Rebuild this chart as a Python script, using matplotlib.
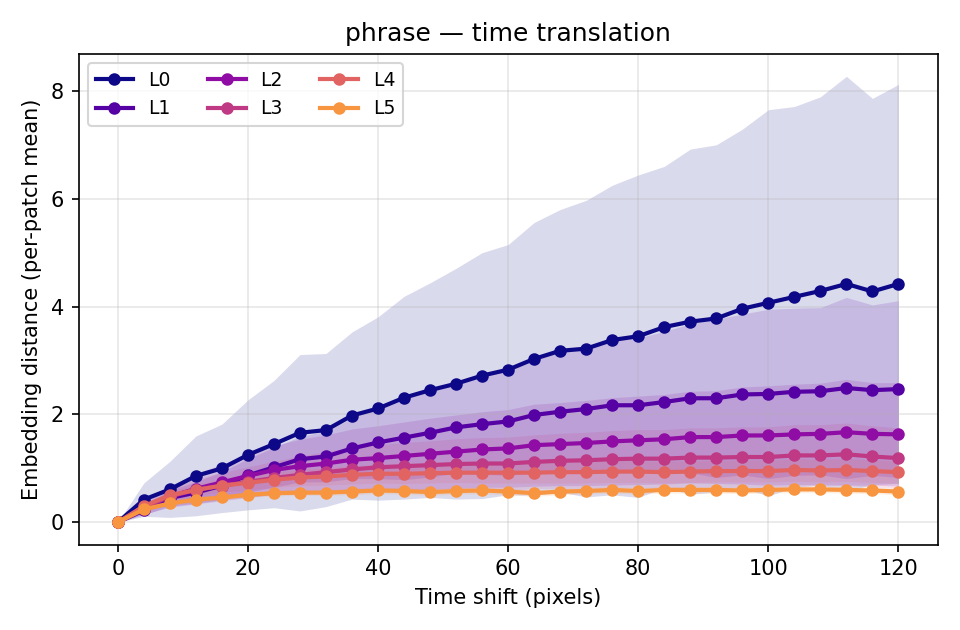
import numpy as np
import matplotlib
matplotlib.use("Agg")
import matplotlib.pyplot as plt

# time shifts (pixels)
shifts = list(range(0, 121, 4))

layer_names = ["L0", "L1", "L2", "L3", "L4", "L5"]

# mean embedding distance per layer
L0_mean = [0, 0.42, 0.61, 0.86, 1.0, 1.25, 1.45, 1.66, 1.71, 1.98, 2.11, 2.31, 2.45, 2.57, 2.72, 2.83,
           3.03, 3.18, 3.22, 3.38, 3.45, 3.62, 3.72, 3.78, 3.96, 4.07, 4.18, 4.29, 4.42, 4.28, 4.42]
L1_mean = [0, 0.22, 0.45, 0.55, 0.68, 0.87, 1.02, 1.17, 1.22, 1.37, 1.48, 1.57, 1.66, 1.76, 1.82, 1.87,
           1.99, 2.05, 2.10, 2.17, 2.17, 2.23, 2.30, 2.30, 2.37, 2.38, 2.42, 2.43, 2.49, 2.45, 2.47]
L2_mean = [0, 0.25, 0.48, 0.62, 0.74, 0.86, 0.97, 1.04, 1.09, 1.16, 1.19, 1.23, 1.27, 1.31, 1.35, 1.37,
           1.43, 1.45, 1.47, 1.50, 1.52, 1.54, 1.58, 1.58, 1.61, 1.61, 1.63, 1.64, 1.67, 1.64, 1.63]
L3_mean = [0, 0.28, 0.48, 0.60, 0.68, 0.75, 0.82, 0.88, 0.93, 0.98, 1.02, 1.04, 1.06, 1.08, 1.09, 1.09,
           1.12, 1.14, 1.15, 1.17, 1.18, 1.18, 1.20, 1.20, 1.21, 1.21, 1.24, 1.24, 1.26, 1.22, 1.19]
L4_mean = [0, 0.30, 0.50, 0.60, 0.68, 0.73, 0.79, 0.83, 0.85, 0.88, 0.90, 0.90, 0.91, 0.92, 0.92, 0.92,
           0.92, 0.93, 0.93, 0.94, 0.94, 0.93, 0.94, 0.95, 0.95, 0.95, 0.97, 0.96, 0.97, 0.95, 0.93]
L5_mean = [0, 0.24, 0.35, 0.42, 0.46, 0.51, 0.54, 0.55, 0.55, 0.57, 0.59, 0.58, 0.56, 0.58, 0.59, 0.57,
           0.54, 0.57, 0.58, 0.60, 0.58, 0.60, 0.60, 0.60, 0.59, 0.60, 0.61, 0.61, 0.60, 0.59, 0.57]

# spread (std) per layer
L0_std = [0, 0.31, 0.52, 0.74, 0.82, 1.02, 1.18, 1.45, 1.42, 1.55, 1.70, 1.88, 1.99, 2.14, 2.28, 2.32,
          2.53, 2.62, 2.75, 2.87, 2.99, 2.98, 3.20, 3.22, 3.33, 3.58, 3.53, 3.60, 3.85, 3.58, 3.70]
L1_std = [0, 0.08, 0.15, 0.20, 0.26, 0.31, 0.37, 0.42, 0.47, 0.56, 0.67, 0.78, 0.82, 0.85, 0.93, 1.00,
          1.07, 1.13, 1.17, 1.21, 1.25, 1.31, 1.38, 1.47, 1.49, 1.57, 1.55, 1.55, 1.68, 1.58, 1.64]
L2_std = [0, 0.10, 0.20, 0.28, 0.34, 0.40, 0.45, 0.50, 0.53, 0.57, 0.60, 0.63, 0.66, 0.68, 0.70, 0.72,
          0.76, 0.77, 0.79, 0.81, 0.82, 0.83, 0.85, 0.86, 0.90, 0.92, 0.93, 0.94, 0.98, 0.95, 0.96]
L3_std = [0, 0.08, 0.15, 0.20, 0.24, 0.28, 0.31, 0.35, 0.38, 0.40, 0.42, 0.44, 0.45, 0.47, 0.48, 0.49,
          0.50, 0.51, 0.52, 0.53, 0.54, 0.54, 0.55, 0.55, 0.56, 0.56, 0.57, 0.57, 0.58, 0.57, 0.56]
L4_std = [0, 0.05, 0.08, 0.10, 0.12, 0.13, 0.14, 0.15, 0.16, 0.17, 0.17, 0.18, 0.18, 0.18, 0.19, 0.19,
          0.19, 0.20, 0.20, 0.20, 0.20, 0.20, 0.20, 0.20, 0.20, 0.20, 0.21, 0.21, 0.21, 0.21, 0.20]
L5_std = [0, 0.03, 0.04, 0.05, 0.05, 0.05, 0.05, 0.05, 0.05, 0.06, 0.06, 0.06, 0.06, 0.06, 0.06, 0.06,
          0.06, 0.06, 0.06, 0.06, 0.06, 0.06, 0.06, 0.06, 0.06, 0.06, 0.06, 0.06, 0.06, 0.06, 0.06]

means = [L0_mean, L1_mean, L2_mean, L3_mean, L4_mean, L5_mean]
stds = [L0_std, L1_std, L2_std, L3_std, L4_std, L5_std]

colors = plt.cm.plasma(np.linspace(0, 0.75, len(layer_names)))

fig, ax = plt.subplots(figsize=(6.4, 4.2), dpi=150)

for name, m, s, c in zip(layer_names, means, stds, colors):
    m = np.array(m)
    s = np.array(s)
    ax.fill_between(shifts, m - s, m + s, color=c, alpha=0.15, linewidth=0)
    ax.plot(shifts, m, marker="o", markersize=5, linewidth=2, color=c, label=name, zorder=3)

ax.set_title("phrase — time translation")
ax.set_xlabel("Time shift (pixels)")
ax.set_ylabel("Embedding distance (per-patch mean)")
ax.grid(True, alpha=0.3)
ax.legend(ncol=3, loc="upper left", fontsize=9)

fig.tight_layout()
fig.savefig("out.png")
